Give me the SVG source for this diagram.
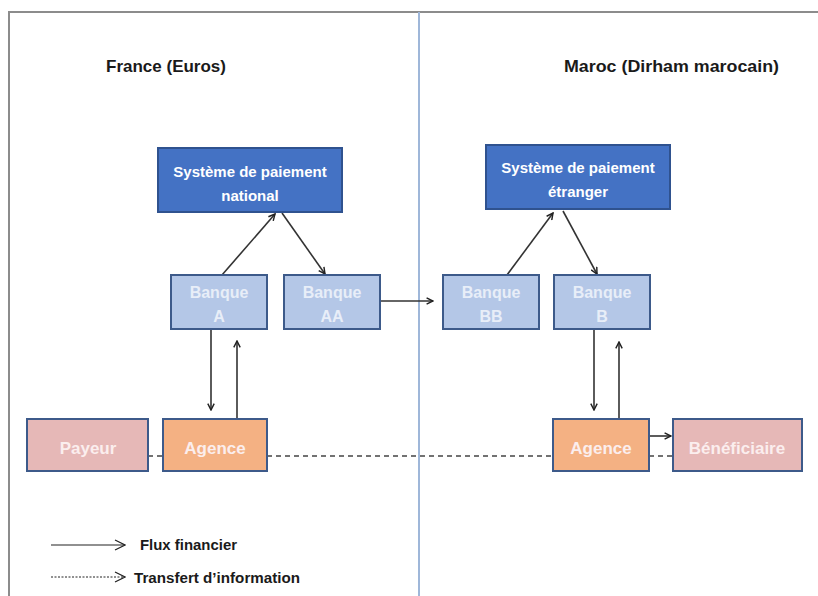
<svg xmlns="http://www.w3.org/2000/svg" width="818" height="596" viewBox="0 0 818 596">
<style>
.frame{fill:none;stroke:#8c8c8c;stroke-width:2}
.title{font-family:"Liberation Sans",Arial,sans-serif;font-weight:bold;font-size:17px;fill:#1a1a1a}
.sys rect{fill:#4472c4;stroke:#2f528f;stroke-width:2}
.bank rect{fill:#b4c7e7;stroke:#3d5a8a;stroke-width:2}
.payer rect{fill:#e6b8b7;stroke:#3d5a8a;stroke-width:2}
.agency rect{fill:#f4b183;stroke:#3d5a8a;stroke-width:2}
.lbl{font-family:"Liberation Sans",Arial,sans-serif;font-weight:bold;font-size:15px;fill:#ffffff;text-anchor:middle}
.bank .lbl{fill:#e8eef8;font-size:16px}
.payer .lbl,.agency .lbl{fill:#fbeeee;font-size:17px}
.flow{fill:none;stroke:#333333;stroke-width:1.6;marker-end:url(#arr)}
.info{fill:none;stroke:#444444;stroke-width:1.5;stroke-dasharray:5 4}
.legend{font-family:"Liberation Sans",Arial,sans-serif;font-weight:bold;font-size:14.5px;fill:#1a1a1a}
</style>
<defs>
<marker id="arr" viewBox="0 0 10 10" refX="9" refY="5" markerWidth="8" markerHeight="8" markerUnits="userSpaceOnUse" orient="auto">
<path d="M1,1 L9,5 L1,9" fill="none" stroke="#222222" stroke-width="1.8"/>
</marker>
<marker id="legarr" viewBox="0 0 12 12" refX="11" refY="6" markerWidth="12" markerHeight="12" markerUnits="userSpaceOnUse" orient="auto">
<path d="M1,1 L11,6 L1,11" fill="none" stroke="#222222" stroke-width="1.2"/>
</marker>
</defs>
<rect width="818" height="596" fill="#ffffff"/>
<path class="frame" d="M818,12 H9 V596"/>
<line x1="419" y1="12" x2="419" y2="596" stroke="#9fb7d9" stroke-width="2"/>
<text class="title" x="106" y="72">France (Euros)</text>
<text class="title" x="564" y="72" textLength="215" lengthAdjust="spacingAndGlyphs">Maroc (Dirham marocain)</text>

<g id="connectors">
<line class="info" x1="148" y1="456" x2="163" y2="456"/>
<line class="info" x1="267" y1="456" x2="553" y2="456"/>
<line class="info" x1="649" y1="456" x2="673" y2="456"/>
<line class="flow" x1="222" y1="275" x2="275" y2="214"/>
<line class="flow" x1="282" y1="213" x2="325" y2="274"/>
<line class="flow" x1="380" y1="301" x2="433" y2="301"/>
<line class="flow" x1="507" y1="275" x2="553" y2="213"/>
<line class="flow" x1="563" y1="211" x2="597" y2="274"/>
<line class="flow" x1="211" y1="329" x2="211" y2="410"/>
<line class="flow" x1="237" y1="419" x2="237" y2="341"/>
<line class="flow" x1="594" y1="329" x2="594" y2="410"/>
<line class="flow" x1="619" y1="419" x2="619" y2="342"/>
<line class="flow" x1="649" y1="436" x2="671" y2="436"/>
</g>

<g id="sys-national" class="sys">
<rect x="158" y="148" width="184" height="64"/>
<text class="lbl" x="250" y="177">Système de paiement</text>
<text class="lbl" x="250" y="201">national</text>
</g>
<g id="sys-etranger" class="sys">
<rect x="486" y="145" width="184" height="64"/>
<text class="lbl" x="578" y="173">Système de paiement</text>
<text class="lbl" x="578" y="197">étranger</text>
</g>
<g id="banque-a" class="bank">
<rect x="171" y="275" width="96" height="54"/>
<text class="lbl" x="219" y="298">Banque</text>
<text class="lbl" x="219" y="322">A</text>
</g>
<g id="banque-aa" class="bank">
<rect x="284" y="275" width="96" height="54"/>
<text class="lbl" x="332" y="298">Banque</text>
<text class="lbl" x="332" y="322">AA</text>
</g>
<g id="banque-bb" class="bank">
<rect x="443" y="275" width="96" height="54"/>
<text class="lbl" x="491" y="298">Banque</text>
<text class="lbl" x="491" y="322">BB</text>
</g>
<g id="banque-b" class="bank">
<rect x="554" y="275" width="96" height="54"/>
<text class="lbl" x="602" y="298">Banque</text>
<text class="lbl" x="602" y="322">B</text>
</g>
<g id="payeur" class="payer">
<rect x="27" y="419" width="121" height="52"/>
<text class="lbl" x="88" y="454">Payeur</text>
</g>
<g id="agence-fr" class="agency">
<rect x="163" y="419" width="104" height="52"/>
<text class="lbl" x="215" y="454">Agence</text>
</g>
<g id="agence-ma" class="agency">
<rect x="553" y="419" width="96" height="52"/>
<text class="lbl" x="601" y="454">Agence</text>
</g>
<g id="beneficiaire" class="payer">
<rect x="673" y="419" width="129" height="52"/>
<text class="lbl" x="737" y="454">Bénéficiaire</text>
</g>

<g id="legend">
<line x1="51" y1="545" x2="125" y2="545" stroke="#222222" stroke-width="1.2" marker-end="url(#legarr)"/>
<text class="legend" x="140" y="550" textLength="97" lengthAdjust="spacingAndGlyphs">Flux financier</text>
<line x1="51" y1="577" x2="125" y2="577" stroke="#222222" stroke-width="1" stroke-dasharray="2 1.5" marker-end="url(#legarr)"/>
<text class="legend" x="134" y="583" textLength="166" lengthAdjust="spacingAndGlyphs">Transfert d’information</text>
</g>
</svg>
